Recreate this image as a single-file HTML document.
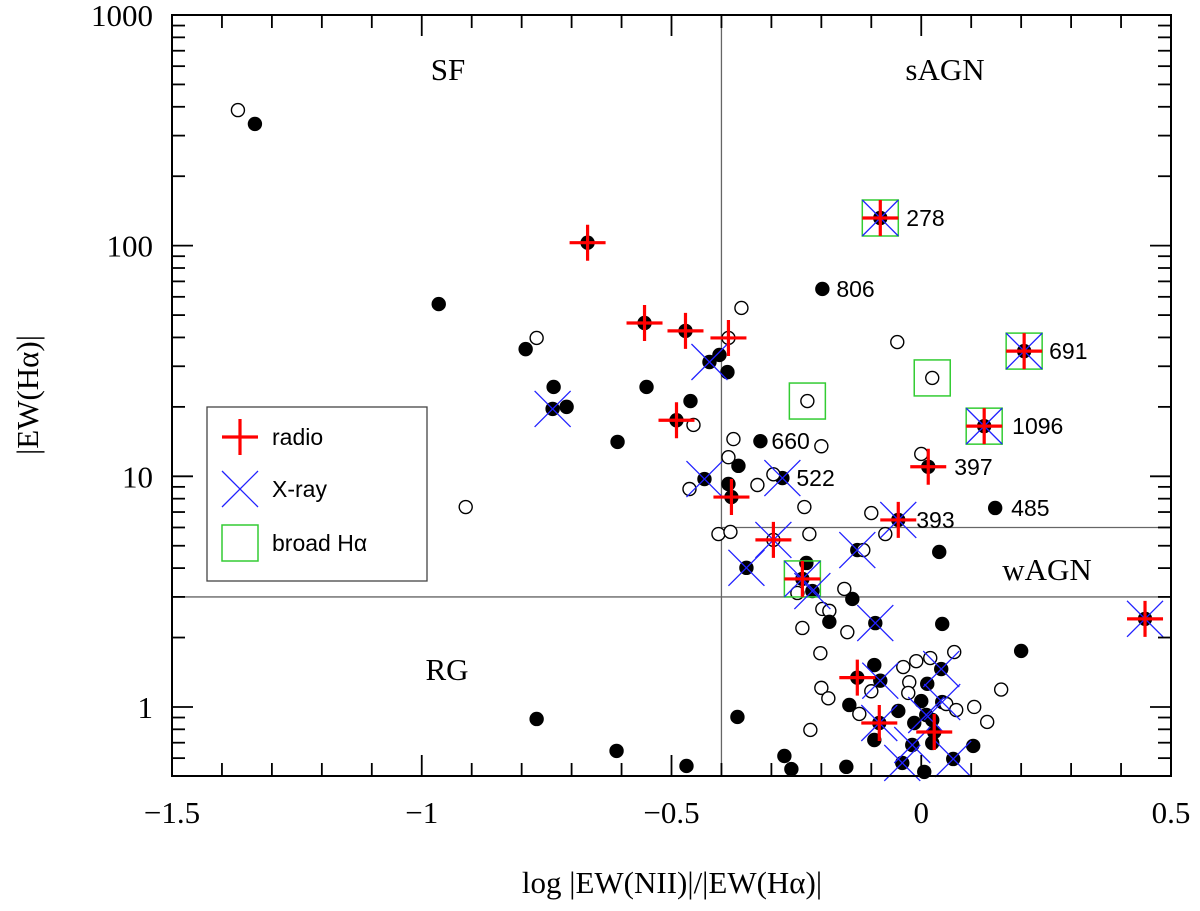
<!DOCTYPE html>
<html><head><meta charset="utf-8">
<style>
html,body{margin:0;padding:0;background:#fff;}
svg{display:block;}
text{font-family:"Liberation Serif",serif;fill:#000;}
.lbl{font-family:"Liberation Sans",sans-serif;}
</style></head>
<body>
<svg id="chart" width="1200" height="911" viewBox="0 0 1200 911" xmlns="http://www.w3.org/2000/svg">
<rect x="0" y="0" width="1200" height="911" fill="#fff"/>
<g id="grid"></g>
<g id="marks"></g>
<g id="frame"></g>
</svg>
<script>
// ---- data ----
const xs = [-1.368,-1.334,-0.668,-0.966,-0.77,-0.792,-0.554,-0.472,-0.386,-0.424,-0.404,-0.388,-0.736,-0.738,-0.71,-0.55,-0.462,-0.49,-0.456,-0.608,-0.36,-0.376,-0.322,-0.386,-0.366,-0.434,-0.464,-0.386,-0.38,-0.328,-0.912,-0.082,-0.198,-0.048,0.022,-0.228,0.206,0.126,-0.2,-0.278,-0.296,0.0,0.014,0.148,-0.234,-0.1,-0.046,-0.406,-0.382,-0.296,-0.224,-0.35,-0.128,-0.116,0.036,-0.072,-0.23,-0.238,-0.218,-0.154,-0.138,-0.248,-0.198,-0.184,-0.092,-0.184,-0.238,-0.148,0.042,0.2,-0.202,0.066,0.018,-0.01,-0.036,-0.094,0.04,-0.128,-0.082,-0.024,0.012,-0.2,-0.186,-0.026,-0.1,0.16,0.0,0.042,-0.144,0.05,0.07,0.106,-0.046,0.01,-0.124,0.022,-0.014,-0.084,0.132,0.026,-0.222,-0.094,0.104,-0.018,0.022,-0.274,-0.26,-0.15,-0.038,0.064,0.006,0.448,-0.77,-0.61,-0.47,-0.368];
const ys = [387,337,103,55.8,39.8,35.6,46.2,42.7,39.8,31.3,33.6,28.3,24.4,19.6,20.0,24.4,21.2,17.5,16.7,14.1,53.7,14.5,14.2,12.1,11.1,9.73,8.81,9.26,8.13,9.17,7.36,131.8,64.9,38.2,26.7,21.2,34.9,16.5,13.5,9.83,10.2,12.5,11.0,7.29,7.36,6.93,6.47,5.62,5.74,5.30,5.62,4.01,4.79,4.79,4.70,5.62,4.21,3.59,3.18,3.25,2.94,3.12,2.66,2.61,2.31,2.34,2.20,2.11,2.29,1.75,1.71,1.73,1.63,1.58,1.49,1.52,1.46,1.34,1.30,1.28,1.26,1.21,1.09,1.15,1.17,1.19,1.06,1.05,1.02,1.03,0.97,1.0,0.961,0.923,0.933,0.878,0.852,0.852,0.861,0.779,0.795,0.719,0.678,0.684,0.698,0.613,0.538,0.550,0.572,0.595,0.523,2.41,0.887,0.645,0.555,0.905];
const filled = [0,1,1,1,0,1,1,1,0,1, 1,1,1,1,1,1,1,1,0,1, 0,0,1,0,1,1,0,1,1,0, 0,1,1,0,0,0,1,1,0,1, 0,0,1,1,0,0,1,0,0,0, 0,1,1,0,1,0,1,1,1,0, 1,0,0,0,1,1,0,0,1,1, 0,0,0,0,0,1,1,1,1,0, 1,0,0,0,0,0, 1,1,1,0,0,0,1,1,0,1, 1,1,0,1,0,1,1,1,1,1, 1,1,1,1,1,1,1,1,1,1];
const radioIdx = [2,6,7,8,17,28,31,36,37,42,46,49,57,77,97,99,111];
const xrayIdx = [9,13,25,31,36,37,39,46,49,51,52,57,58,64,76,78,87,93,97,103,108,109,111];
const broadIdx = [31,34,35,36,37,57];
const labelIdx = [31,32,36,37,22,39,42,43,46];
const labelText = ["278","806","691","1096","660","522","397","485","393"];
const xTicks = [-1.5,-1,-0.5,0,0.5];
const xTickLabels = ["\u22121.5","\u22121","\u22120.5","0","0.5"];
const yTicks = [1,10,100,1000];
const yTickLabels = ["1","10","100","1000"];

// ---- axes ----
const L=172,R=1171,T=15,B=776;
const XMIN=-1.5,XMAX=0.5,YMIN=Math.log10(0.502),YMAX=3;
function sx(v){return L+(v-XMIN)/(XMAX-XMIN)*(R-L);}
function sy(v){return B-(Math.log10(v)-YMIN)/(YMAX-YMIN)*(B-T);}
const NS="http://www.w3.org/2000/svg";
function mk(tag,attrs,parent){const e=document.createElementNS(NS,tag);for(const k in attrs)e.setAttribute(k,attrs[k]);parent.appendChild(e);return e;}
const grid=document.getElementById('grid'),marks=document.getElementById('marks'),frame=document.getElementById('frame');
const labelDx=[26,14,25,28,11,14,26,16,18];

// region dividers
let ln=mk('line',{x1:sx(-0.4),y1:T,x2:sx(-0.4),y2:B,stroke:'#666','stroke-width':1.3},grid);


ln=mk('line',{x1:L,y1:sy(3),x2:R,y2:sy(3),stroke:'#666','stroke-width':1.3},grid);


ln=mk('line',{x1:sx(-0.4),y1:sy(6),x2:R,y2:sy(6),stroke:'#666','stroke-width':1.3},grid);



// frame
let fr=mk('rect',{x:L,y:T,width:R-L,height:B-T,fill:'none',stroke:'#000','stroke-width':2},frame);


for(let i=0;i<=20;i++){const v=-1.5+i*0.1;const x=sx(v);const major=(i%5===0);const len=major?21:13;
 mk('line',{x1:x,y1:B,x2:x,y2:B-len,stroke:'#000','stroke-width':1.8},frame);
 mk('line',{x1:x,y1:T,x2:x,y2:T+len,stroke:'#000','stroke-width':1.8},frame);}
for(let d=-1;d<3;d++){for(let m=1;m<10;m++){const v=m*Math.pow(10,d);if(v<0.502||v>1000)continue;const y=sy(v);const len=(m===1)?21:13;
 mk('line',{x1:L,y1:y,x2:L+len,y2:y,stroke:'#000','stroke-width':1.8},frame);
 mk('line',{x1:R,y1:y,x2:R-len,y2:y,stroke:'#000','stroke-width':1.8},frame);}}
{const y=sy(1000);mk('line',{x1:L,y1:y,x2:L+21,y2:y,stroke:'#000','stroke-width':1.8},frame);}
xTicks.forEach((v,i)=>{const t=mk('text',{x:sx(v),y:823,'text-anchor':'middle','font-size':31},frame);t.textContent=xTickLabels[i];
 
 });
yTicks.forEach((v,i)=>{const t=mk('text',{x:153,y:sy(v)+11,'text-anchor':'end','font-size':31},frame);t.textContent=yTickLabels[i];
 
 });

// points
for(let i=0;i<xs.length;i++){const cx=sx(xs[i]),cy=sy(ys[i]);
 const c=mk('circle',filled[i]?{cx:cx,cy:cy,r:7.2,fill:'#000'}:{cx:cx,cy:cy,r:6.5,fill:'#fff',stroke:'#000','stroke-width':1.4},marks);
 
 }
function drawBroad(cx,cy,g){const s=mk('rect',{x:cx-18,y:cy-18,width:36,height:36,fill:'none',stroke:'#3c3','stroke-width':1.5},g);
 
 }
function drawX(cx,cy,g){const p=mk('path',{d:`M${cx-18},${cy-18}L${cx+18},${cy+18}M${cx-18},${cy+18}L${cx+18},${cy-18}`,stroke:'#22f','stroke-width':1.3,fill:'none'},g);
 
 }
function drawR(cx,cy,g){const p=mk('path',{d:`M${cx-18},${cy}L${cx+18},${cy}M${cx},${cy-18}L${cx},${cy+18}`,stroke:'#f00','stroke-width':3.2,fill:'none'},g);
 
 }
broadIdx.forEach(i=>drawBroad(sx(xs[i]),sy(ys[i]),marks));
xrayIdx.forEach(i=>drawX(sx(xs[i]),sy(ys[i]),marks));
radioIdx.forEach(i=>drawR(sx(xs[i]),sy(ys[i]),marks));
labelIdx.forEach((i,k)=>{const t=mk('text',{x:sx(xs[i])+labelDx[k],y:sy(ys[i])+8,'font-size':23,class:'lbl'},marks);t.textContent=labelText[k];
 
 });

// region labels
[["SF",448,80],["sAGN",945,80],["wAGN",1047,580],["RG",447,680]].forEach(a=>{const t=mk('text',{x:a[1],y:a[2],'text-anchor':'middle','font-size':31},frame);t.textContent=a[0];
 
 });

// legend
const lg=mk('g',{},frame);


mk('rect',{x:207,y:407,width:220,height:174,fill:'#fff',stroke:'#444','stroke-width':1.3},lg);
drawR(240,437,lg);drawX(240,489,lg);drawBroad(240,543,lg);
[["radio",445],["X-ray",497],["broad H\u03b1",551]].forEach(a=>{const t=mk('text',{x:272,y:a[1],'font-size':23,class:'lbl'},lg);t.textContent=a[0];
 
 });

// axis titles
let at=mk('text',{x:672,y:893,'text-anchor':'middle','font-size':31},frame);at.textContent="log |EW(NII)|/|EW(H\u03b1)|";


at=mk('text',{x:0,y:0,'text-anchor':'middle','font-size':31,transform:'translate(38,395) rotate(-90)'},frame);at.textContent="|EW(H\u03b1)|";


</script>
</body></html>
